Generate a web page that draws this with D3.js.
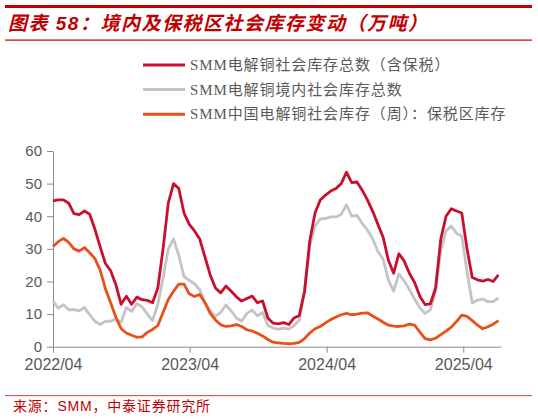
<!DOCTYPE html>
<html>
<head>
<meta charset="utf-8">
<script src="https://cdn.jsdelivr.net/npm/d3@7"></script>
<style>
  body { margin: 0; background: #fff; }
  svg { display: block; }
</style>
</head>
<body>
<div id="chart"></div>
<script>
// data (every 2 weeks)
const dates = [
  "2022-04-01","2022-04-15","2022-04-29","2022-05-13","2022-05-27","2022-06-10","2022-06-24","2022-07-08",
  "2022-07-22","2022-08-05","2022-08-19","2022-09-02","2022-09-16","2022-09-30","2022-10-14","2022-10-28",
  "2022-11-11","2022-11-25","2022-12-09","2022-12-23","2023-01-06","2023-01-20","2023-02-03","2023-02-17",
  "2023-03-03","2023-03-17","2023-03-31","2023-04-14","2023-04-28","2023-05-12","2023-05-26","2023-06-09",
  "2023-06-23","2023-07-07","2023-07-21","2023-08-04","2023-08-18","2023-09-01","2023-09-15","2023-09-29",
  "2023-10-13","2023-10-27","2023-11-10","2023-11-24","2023-12-08","2023-12-22","2024-01-05","2024-01-19",
  "2024-02-02","2024-02-16","2024-03-01","2024-03-15","2024-03-29","2024-04-12","2024-04-26","2024-05-10",
  "2024-05-24","2024-06-07","2024-06-21","2024-07-05","2024-07-19","2024-08-02","2024-08-16","2024-08-30",
  "2024-09-13","2024-09-27","2024-10-11","2024-10-25","2024-11-08","2024-11-22","2024-12-06","2024-12-20",
  "2025-01-03","2025-01-17","2025-01-31","2025-02-14","2025-02-28","2025-03-14","2025-03-28","2025-04-11",
  "2025-04-25","2025-05-09","2025-05-23","2025-06-06","2025-06-20","2025-07-04"
]

// SMM total incl. bonded
const total = [
  44.7, 45, 45, 44, 40.8, 40.5, 41.6, 40.6, 36, 30.6, 25.5, 23.3, 19, 13, 15.5, 13,
  15.2, 14.4, 14.2, 13.5, 18, 30, 44, 50, 48.5, 41, 37.5, 35.5, 33, 27.5, 22, 18,
  16.5, 18.6, 17, 15.3, 14, 14.8, 15.5, 13.5, 14, 8.8, 7.2, 7, 7.4, 6.8, 8.8, 9.6,
  17, 32.5, 41, 45, 46.5, 47.7, 48.5, 50, 53.5, 50.3, 50.5, 48, 45, 41.5, 37.5, 33.5,
  26.5, 22.5, 28.5, 26.3, 22.5, 19.7, 15.5, 12.9, 13.1, 18, 33, 40, 42.3, 41.6, 41, 30,
  21.2, 20.5, 20.1, 20.6, 20, 22
]

// SMM domestic
const domestic = [
  14, 11.8, 12.9, 11.3, 11.4, 11, 12, 9.8, 7.8, 6.8, 7.8, 7.8, 8.5, 7.5, 12, 10.8,
  13.2, 12.2, 10, 8, 13, 21, 30, 33, 28, 21.5, 20.3, 19.3, 17.5, 13.5, 11, 9.3,
  10.5, 12.8, 11, 8.8, 7.8, 10.2, 11.2, 9.5, 10.5, 6.5, 5.7, 5.4, 5.7, 5.4, 6.5, 8.2,
  17, 31, 37, 39.2, 39.3, 39.8, 39.8, 40.6, 43.5, 40, 40.3, 37.8, 35.8, 33, 29.2, 26.8,
  20.5, 17, 22.3, 20.2, 17.6, 14.6, 11.9, 10.2, 11.3, 17, 29.5, 35.5, 37, 34.8, 33.9, 23,
  13.4, 14.3, 14.6, 13.8, 13.8, 15
]

// SMM bonded zone
const bonded = [
  30.7, 32.2, 33.2, 32, 30, 29.3, 30.4, 28.8, 27, 23.5, 17.8, 13.5, 9, 5.5, 4.2, 3.5,
  2.9, 3, 4.4, 5.3, 6.5, 10.5, 14.5, 17, 19.2, 19.2, 16.2, 15.4, 16, 13.5, 10.2, 8.2,
  6.7, 6.2, 6.4, 6.8, 6.2, 5.2, 4.8, 4.1, 3.3, 2.2, 1.4, 1.2, 1.0, 0.9, 1.0, 1.3,
  2.5, 4.2, 5.5, 6.2, 7.3, 8.3, 9.1, 9.8, 10.2, 9.8, 10, 10.3, 10.4, 9.4, 8.5, 7.5,
  6.6, 6.3, 6.2, 6.4, 6.9, 6.6, 4.5, 2.5, 2.1, 2.6, 3.7, 4.8, 6.0, 7.7, 9.7, 9.3,
  8, 6.6, 5.5, 6.1, 6.9, 8
]

const seriesNames = [
  "SMM电解铜社会库存总数（含保税）",
  "SMM电解铜境内社会库存总数",
  "SMM中国电解铜社会库存（周）：保税区库存"
]
const seriesColors = ["#c8102e", "#c4c4c4", "#e8501a"]
const yTicks = [0, 10, 20, 30, 40, 50, 60]
const xTicks = ["2022-04-01", "2023-04-01", "2024-04-01", "2025-04-01"]

const parseDate = d3.timeParse("%Y-%m-%d")

let dimensions = {
  width: 538,
  height: 419,
  margin: { top: 151, right: 37.3, bottom: 72.3, left: 53 },
}
dimensions.innerWidth = dimensions.width - dimensions.margin.left - dimensions.margin.right
dimensions.innerHeight = dimensions.height - dimensions.margin.top - dimensions.margin.bottom

const svg = d3.select("#chart")
  .append("svg")
    .attr("width", dimensions.width)
    .attr("height", dimensions.height)

// header: rules + title
svg.append("rect")
  .attr("x", 5).attr("y", 5).attr("width", 527).attr("height", 3)
  .attr("fill", "#c00000")
svg.append("rect")
  .attr("x", 5).attr("y", 39.5).attr("width", 527).attr("height", 1.2)
  .attr("fill", "#c00000")
svg.append("text")
  .attr("x", 8).attr("y", 30)
  .attr("fill", "#c00000")
  .style("font-family", "'Liberation Sans', 'Noto Sans CJK SC', sans-serif")
  .style("font-size", "19px")
  .style("font-weight", "bold")
  .style("font-style", "italic")
  .style("letter-spacing", "1.5px")
  .text("图表 58：境内及保税区社会库存变动（万吨）")

// footer
svg.append("rect")
  .attr("x", 5).attr("y", 395).attr("width", 527).attr("height", 1.2)
  .attr("fill", "#d9595b")
svg.append("text")
  .attr("x", 13).attr("y", 411)
  .attr("fill", "#c00000")
  .style("font-family", "'Liberation Sans', 'Noto Sans CJK SC', sans-serif")
  .style("font-size", "14px")
  .style("letter-spacing", "0.8px")
  .text("来源：SMM，中泰证券研究所")

// legend
const legend = svg.append("g")
seriesNames.forEach((name, i) => {
  const y = 65 + i * 24.6
  legend.append("line")
    .attr("x1", 143).attr("x2", 185).attr("y1", y).attr("y2", y)
    .attr("stroke", seriesColors[i]).attr("stroke-width", 3)
  legend.append("text")
    .attr("x", 190).attr("y", y + 5)
    .attr("fill", "#595959")
    .style("font-family", "'Liberation Serif', 'Noto Sans CJK SC', serif")
    .style("font-size", "15px")
    .style("letter-spacing", "0.9px")
    .text(name)
})

const inner = svg.append("g")
  .attr("transform", `translate(${dimensions.margin.left}, ${dimensions.margin.top})`)

const xScale = d3.scaleTime()
  .domain([parseDate("2022-04-01"), parseDate("2025-07-10")])
  .range([0, dimensions.innerWidth])

const yScale = d3.scaleLinear()
  .domain([0, 60])
  .range([dimensions.innerHeight, 0])

// axes
const axisColor = "#8c8c8c"
const yAxisGroup = inner.append("g")
  .call(d3.axisLeft(yScale).tickValues(yTicks).tickSize(6).tickPadding(5).tickSizeOuter(0))
yAxisGroup.select(".domain").attr("stroke", axisColor)
yAxisGroup.selectAll(".tick line").attr("stroke", axisColor)
yAxisGroup.selectAll(".tick text")
  .attr("fill", "#595959")
  .style("font-family", "'Liberation Sans', Arial, sans-serif")
  .style("font-size", "15px")

const xAxisGroup = inner.append("g")
  .attr("transform", `translate(0, ${dimensions.innerHeight})`)
  .call(d3.axisBottom(xScale)
    .tickValues(xTicks.map(parseDate))
    .tickFormat(d3.timeFormat("%Y/%m"))
    .tickSize(6).tickPadding(6).tickSizeOuter(0))
xAxisGroup.select(".domain").attr("stroke", axisColor)
xAxisGroup.selectAll(".tick line").attr("stroke", axisColor)
xAxisGroup.selectAll(".tick text")
  .attr("fill", "#595959")
  .style("font-family", "'Liberation Sans', Arial, sans-serif")
  .style("font-size", "16px")

// lines
const rows = dates.map((d, i) => ({
  date: parseDate(d),
  values: [total[i], domestic[i], bonded[i]],
}))

const drawOrder = [1, 2, 0]
drawOrder.forEach(k => {
  const lineGenerator = d3.line()
    .x(d => xScale(d.date))
    .y(d => yScale(d.values[k]))
  inner.append("path")
    .attr("d", lineGenerator(rows))
    .attr("fill", "none")
    .attr("stroke", seriesColors[k])
    .attr("stroke-width", 2.8)
    .attr("stroke-linejoin", "round")
})
</script>
</body>
</html>
